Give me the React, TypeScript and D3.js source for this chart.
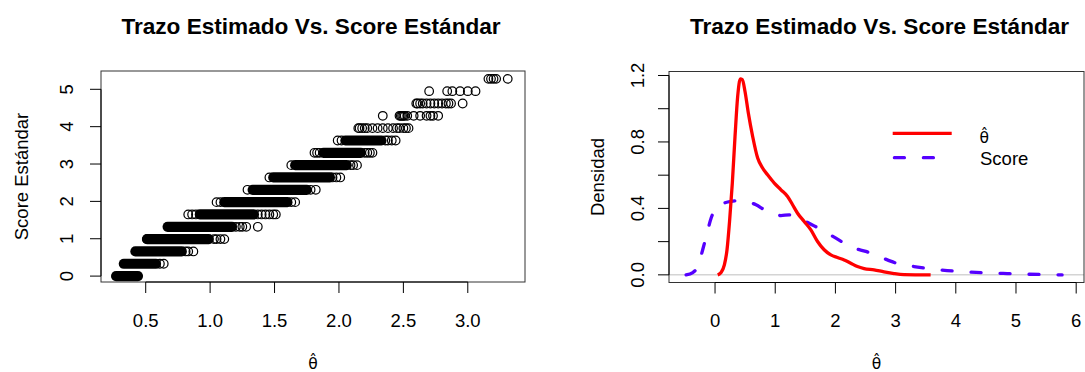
import React from "react";
import * as d3 from "d3";

const W = 1085;
const H = 372;
const FONT = '"Liberation Sans", Arial, Helvetica, sans-serif';
const MATH_FONT = '"DejaVu Sans", "Liberation Sans", sans-serif';

// ---------- Scatter: estimated trait vs. standard score ----------
// Each standard-score level holds one row of points.
const scoreLevels = [0, 0.33, 0.66, 0.99, 1.32, 1.65, 1.98, 2.31, 2.64, 2.97, 3.3, 3.63, 3.96, 4.29, 4.62, 4.95, 5.28];
// θ interval where the points of a level are packed into a solid run (null = no solid run)
const denseLow = [0.27, 0.33, 0.42, 0.51, 0.67, 0.92, 1.11, 1.33, 1.49, 1.66, 1.88, 2.05, null, null, null, null, null];
const denseHigh = [0.44, 0.58, 0.78, 0.99, 1.17, 1.34, 1.6, 1.75, 1.93, 2.06, 2.17, 2.33, null, null, null, null, null];
// Points that stand apart at each level
const sparseTheta: number[][] = [
  [],
  [0.61, 0.64],
  [0.81, 0.83, 0.87],
  [0.51, 1.03, 1.05, 1.08, 1.11],
  [1.2, 1.23, 1.25, 1.28, 1.37],
  [0.83, 0.86, 0.89, 1.37, 1.4, 1.43, 1.46, 1.49, 1.51],
  [1.05, 1.08, 1.63, 1.66],
  [1.29, 1.78, 1.82],
  [1.46, 1.95, 1.98, 2.01],
  [1.63, 2.09, 2.11, 2.14],
  [1.81, 1.83, 1.85, 2.2, 2.22, 2.24, 2.26],
  [1.99, 2.02, 2.36, 2.38, 2.41, 2.44],
  [2.15, 2.16, 2.18, 2.2, 2.22, 2.26, 2.3, 2.34, 2.38, 2.42, 2.45, 2.47, 2.5, 2.52, 2.54],
  [2.34, 2.47, 2.48, 2.49, 2.5, 2.51, 2.53, 2.58, 2.63, 2.68, 2.71, 2.73, 2.77],
  [2.6, 2.61, 2.63, 2.65, 2.68, 2.71, 2.74, 2.77, 2.8, 2.83, 2.85, 2.87, 2.96],
  [2.7, 2.84, 2.88, 2.94, 3.0, 3.06],
  [3.16, 3.18, 3.2, 3.22, 3.31],
];
const scatterXLim = [0.153, 3.444];
const scatterYLim = [-0.158, 5.49];
const scatterXTicks = [0.5, 1.0, 1.5, 2.0, 2.5, 3.0];
const scatterYTicks = [0, 1, 2, 3, 4, 5];

// ---------- Density curves ----------
const thetaDensX = [0.044, 0.1, 0.155, 0.199, 0.243, 0.287, 0.332, 0.376, 0.42, 0.453, 0.498, 0.553, 0.625, 0.708, 0.79, 0.873, 0.984, 1.095, 1.205, 1.288, 1.371, 1.481, 1.592, 1.703, 1.813, 1.924, 2.034, 2.145, 2.255, 2.366, 2.477, 2.642, 2.808, 2.974, 3.14, 3.582];
const thetaDensY = [0, 0.014, 0.06, 0.151, 0.331, 0.552, 0.833, 1.074, 1.179, 1.175, 1.104, 0.974, 0.833, 0.703, 0.643, 0.602, 0.552, 0.512, 0.472, 0.422, 0.371, 0.321, 0.271, 0.201, 0.151, 0.12, 0.104, 0.09, 0.07, 0.05, 0.038, 0.03, 0.018, 0.008, 0.002, 0];
const scoreDensX = [-0.481, -0.37, -0.287, -0.205, -0.133, -0.066, 0.017, 0.127, 0.265, 0.404, 0.542, 0.68, 0.818, 0.956, 1.095, 1.233, 1.371, 1.509, 1.647, 1.813, 1.979, 2.145, 2.311, 2.504, 2.698, 2.863, 3.085, 3.306, 3.582, 3.858, 4.19, 4.522, 4.854, 5.185, 5.462, 5.766];
const scoreDensY = [0, 0.014, 0.05, 0.151, 0.251, 0.341, 0.402, 0.428, 0.442, 0.446, 0.44, 0.422, 0.392, 0.367, 0.357, 0.361, 0.347, 0.321, 0.295, 0.261, 0.227, 0.191, 0.161, 0.141, 0.114, 0.09, 0.062, 0.05, 0.036, 0.026, 0.018, 0.012, 0.008, 0.004, 0.002, 0];
const densXLim = [-0.765, 6.13];
const densYLim = [-0.046, 1.224];
const densXTicks = [0, 1, 2, 3, 4, 5, 6];
const densYTicks = [0, 0.2, 0.4, 0.6, 0.8, 1.0, 1.2];
const densYLabels = [0, 0.4, 0.8, 1.2];
const THETA_HAT = "θ\u0302";
const legendLabels = [THETA_HAT, "Score"];

const TITLE = "Trazo Estimado Vs. Score Estándar";
const RED = "#ff0000";
const BLUE = "#5500ff";

const L = { left: 101, right: 525, top: 71, bottom: 282 };
const R = { left: 669, right: 1084, top: 71.5, bottom: 282.5 };
const TICK = 11;
const FS = 18.5;

export default function App() {
  const sx = d3.scaleLinear().domain(scatterXLim).range([L.left, L.right]);
  const sy = d3.scaleLinear().domain(scatterYLim).range([L.bottom, L.top]);
  const dx = d3.scaleLinear().domain(densXLim).range([R.left, R.right]);
  const dy = d3.scaleLinear().domain(densYLim).range([R.bottom, R.top]);

  const line = d3
    .line<[number, number]>()
    .x((d) => dx(d[0]))
    .y((d) => dy(d[1]))
    .curve(d3.curveMonotoneX);
  const thetaPath = line(thetaDensX.map((v, i) => [v, thetaDensY[i]]) as [number, number][]) || "";
  const scorePath = line(scoreDensX.map((v, i) => [v, scoreDensY[i]]) as [number, number][]) || "";

  const rPt = 4.3;
  const rBlob = 5.1;

  return (
    <svg
      width={W}
      height={H}
      style={{ position: "absolute", left: 0, top: 0, background: "#fff" }}
      fontFamily={FONT}
    >
      <rect x={0} y={0} width={W} height={H} fill="#fff" />

      {/* ---------------- left panel: scatter ---------------- */}
      <text x={(L.left + L.right) / 2 - 2} y={34} fontSize={22.6} fontWeight="bold" textAnchor="middle">
        {TITLE}
      </text>
      <g>
        {scoreLevels.map((lvl, i) =>
          denseLow[i] != null ? (
            <rect
              key={"b" + i}
              x={sx(denseLow[i] as number) - rBlob}
              y={sy(lvl) - rBlob}
              width={sx(denseHigh[i] as number) - sx(denseLow[i] as number) + 2 * rBlob}
              height={2 * rBlob}
              rx={rBlob}
              fill="#000"
            />
          ) : null
        )}
        {scoreLevels.map((lvl, i) =>
          sparseTheta[i].map((t, j) => (
            <circle key={i + "-" + j} cx={sx(t)} cy={sy(lvl)} r={rPt} fill="none" stroke="#000" strokeWidth={1.2} />
          ))
        )}
      </g>
      <rect x={L.left} y={L.top} width={L.right - L.left} height={L.bottom - L.top} fill="none" stroke="#333" strokeWidth={1} />
      {/* x axis */}
      <line x1={sx(scatterXTicks[0])} x2={sx(scatterXTicks[scatterXTicks.length - 1])} y1={L.bottom} y2={L.bottom} stroke="#000" />
      {scatterXTicks.map((t) => (
        <g key={"sxt" + t}>
          <line x1={sx(t)} x2={sx(t)} y1={L.bottom} y2={L.bottom + TICK} stroke="#000" />
          <text x={sx(t)} y={326.5} fontSize={FS} textAnchor="middle">
            {t.toFixed(1)}
          </text>
        </g>
      ))}
      {/* y axis */}
      <line x1={L.left} x2={L.left} y1={sy(scatterYTicks[0])} y2={sy(scatterYTicks[scatterYTicks.length - 1])} stroke="#000" />
      {scatterYTicks.map((t) => (
        <g key={"syt" + t}>
          <line x1={L.left - TICK} x2={L.left} y1={sy(t)} y2={sy(t)} stroke="#000" />
          <text transform={`translate(72.5,${sy(t)}) rotate(-90)`} fontSize={FS} textAnchor="middle">
            {String(t)}
          </text>
        </g>
      ))}
      <text transform={`translate(28,${(L.top + L.bottom) / 2}) rotate(-90)`} fontSize={FS} textAnchor="middle">
        Score Estándar
      </text>
      <text x={(L.left + L.right) / 2} y={369} fontSize={15.5} fontFamily={MATH_FONT} textAnchor="middle">
        {THETA_HAT}
      </text>

      {/* ---------------- right panel: densities ---------------- */}
      <text x={(R.left + R.right) / 2 + 3} y={34} fontSize={22.6} fontWeight="bold" textAnchor="middle">
        {TITLE}
      </text>
      <line x1={R.left} x2={R.right} y1={dy(0)} y2={dy(0)} stroke="#bebebe" strokeWidth={1} />
      <path d={scorePath} fill="none" stroke={BLUE} strokeWidth={3.3} strokeDasharray="10 19" strokeLinecap="round" />
      <path d={thetaPath} fill="none" stroke={RED} strokeWidth={3.3} strokeLinejoin="round" />
      <rect x={R.left} y={R.top} width={R.right - R.left} height={R.bottom - R.top} fill="none" stroke="#333" strokeWidth={1} />
      <line x1={dx(densXTicks[0])} x2={dx(densXTicks[densXTicks.length - 1])} y1={R.bottom} y2={R.bottom} stroke="#000" />
      {densXTicks.map((t) => (
        <g key={"dxt" + t}>
          <line x1={dx(t)} x2={dx(t)} y1={R.bottom} y2={R.bottom + TICK} stroke="#000" />
          <text x={dx(t)} y={326.5} fontSize={FS} textAnchor="middle">
            {String(t)}
          </text>
        </g>
      ))}
      <line x1={R.left} x2={R.left} y1={dy(densYTicks[0])} y2={dy(densYTicks[densYTicks.length - 1])} stroke="#000" />
      {densYTicks.map((t) => (
        <line key={"dyt" + t} x1={R.left - TICK} x2={R.left} y1={dy(t)} y2={dy(t)} stroke="#000" />
      ))}
      {densYLabels.map((t) => (
        <text key={"dyl" + t} transform={`translate(643.5,${dy(t)}) rotate(-90)`} fontSize={FS} textAnchor="middle">
          {t.toFixed(1)}
        </text>
      ))}
      <text transform={`translate(603.5,${(R.top + R.bottom) / 2}) rotate(-90)`} fontSize={FS} textAnchor="middle">
        Densidad
      </text>
      <text x={(R.left + R.right) / 2} y={369} fontSize={15.5} fontFamily={MATH_FONT} textAnchor="middle">
        {THETA_HAT}
      </text>

      {/* legend */}
      <line x1={892.7} x2={951.7} y1={133.3} y2={133.3} stroke={RED} strokeWidth={3.3} />
      <line x1={894.4} x2={951.7} y1={157.7} y2={157.7} stroke={BLUE} strokeWidth={3.3} strokeDasharray="10 19" strokeLinecap="round" />
      <text x={979.5} y={143} fontSize={15.5} fontFamily={MATH_FONT}>
        {legendLabels[0]}
      </text>
      <text x={980} y={165} fontSize={FS}>
        {legendLabels[1]}
      </text>
    </svg>
  );
}
